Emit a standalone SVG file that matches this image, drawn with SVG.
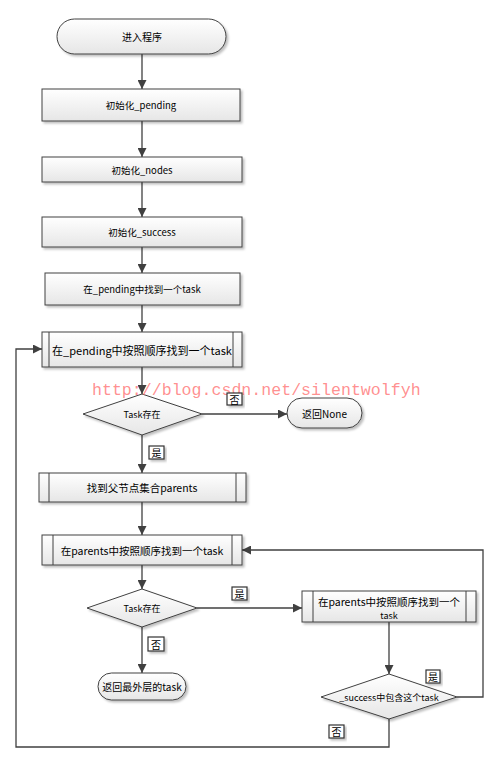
<svg xmlns="http://www.w3.org/2000/svg" width="495" height="758" viewBox="0 0 495 758">
<defs>
<linearGradient id="g" x1="0" y1="0" x2="0" y2="1">
<stop offset="0" stop-color="#ffffff"/>
<stop offset="1" stop-color="#e6e6e6"/>
</linearGradient>
<filter id="sh" x="-10%" y="-10%" width="130%" height="150%">
<feDropShadow dx="2" dy="2" stdDeviation="1" flood-color="#000" flood-opacity="0.25"/>
</filter>
<marker id="ah" viewBox="0 0 10 10" refX="10" refY="5" markerWidth="9" markerHeight="9" markerUnits="userSpaceOnUse" orient="auto">
<path d="M0,0 L10,5 L0,10 Z" fill="#404040"/>
</marker>
</defs>
<style>
.n{fill:url(#g);stroke:#404040;stroke-width:1;filter:url(#sh)}
.in{stroke:#404040;stroke-width:1;fill:none}
.t{font-family:"Noto Sans CJK SC","Noto Sans",sans-serif;fill:#000;text-anchor:middle;dominant-baseline:central}
.c{fill:none;stroke:#404040;stroke-width:1.3;marker-end:url(#ah)}
.lb{fill:#fff;stroke:#333;stroke-width:1.2;filter:url(#sh)}
.lt{font-family:"Noto Sans CJK SC",sans-serif;font-size:10px;fill:#000;text-anchor:middle;dominant-baseline:central}
</style>
<rect width="495" height="758" fill="#fff"/>
<g id="connectors">
<path class="c" d="M142,54 V89"/>
<path class="c" d="M142,121 V157"/>
<path class="c" d="M142,182 V217"/>
<path class="c" d="M142,247 V273"/>
<path class="c" d="M142,305 V332"/>
<path class="c" d="M142,367 V394"/>
<path class="c" d="M202,414 H287"/>
<path class="c" d="M142,435 V473"/>
<path class="c" d="M142,502 V535"/>
<path class="c" d="M142,565 V589"/>
<path class="c" d="M197,608 H302"/>
<path class="c" d="M142,627 V673"/>
<path class="c" d="M389,622 V674"/>
<path class="c" d="M457,697 H483 V550 H242"/>
<path class="c" d="M389,719 V747 H16 V349 H42"/>
</g>
<g id="start">
<rect class="n" x="57" y="19" width="169" height="35" rx="17.5"/>
<text class="t" x="142" y="36.5" font-size="10">进入程序</text>
</g>
<g id="init_pending">
<rect class="n" x="42" y="89" width="198" height="32"/>
<text class="t" x="141" y="105" font-size="9.5">初始化_pending</text>
</g>
<g id="init_nodes">
<rect class="n" x="42" y="157" width="200" height="25"/>
<text class="t" x="142" y="169.5" font-size="9.5">初始化_nodes</text>
</g>
<g id="init_success">
<rect class="n" x="42" y="217" width="200" height="30"/>
<text class="t" x="142" y="232" font-size="9.5">初始化_success</text>
</g>
<g id="find_pending">
<rect class="n" x="45" y="273" width="195" height="32"/>
<text class="t" x="142" y="289" font-size="9.5">在_pending中找到一个task</text>
</g>
<g id="find_pending_order">
<rect class="n" x="42" y="332" width="200" height="35"/>
<path class="in" d="M49,332 V367 M233,332 V367"/>
<text class="t" x="142" y="349.5" font-size="11">在_pending中按照顺序找到一个task</text>
</g>
<g id="task_exists1">
<polygon class="n" points="142,394 202,414 142,435 83,414"/>
<text class="t" x="142" y="414" font-size="9">Task存在</text>
</g>
<g id="return_none">
<rect class="n" x="287" y="398" width="75" height="30" rx="15"/>
<text class="t" x="324.5" y="413" font-size="10">返回None</text>
</g>
<g id="find_parents">
<rect class="n" x="39" y="473" width="207" height="29"/>
<path class="in" d="M49,473 V502 M236,473 V502"/>
<text class="t" x="142" y="487.5" font-size="10.5">找到父节点集合parents</text>
</g>
<g id="find_in_parents">
<rect class="n" x="42" y="535" width="200" height="30"/>
<path class="in" d="M53,535 V565 M232,535 V565"/>
<text class="t" x="142" y="550" font-size="10.5">在parents中按照顺序找到一个task</text>
</g>
<g id="task_exists2">
<polygon class="n" points="142,589 197,608 142,627 87,608"/>
<text class="t" x="142" y="608" font-size="9">Task存在</text>
</g>
<g id="find_in_parents2">
<rect class="n" x="302" y="591" width="174" height="31"/>
<path class="in" d="M313,591 V622 M466,591 V622"/>
<text class="t" x="389" y="601" font-size="10.5">在parents中按照顺序找到一个</text>
<text class="t" x="389" y="615" font-size="9">task</text>
</g>
<g id="return_outer">
<rect class="n" x="98" y="673" width="88" height="27" rx="13.5"/>
<text class="t" x="142" y="686.5" font-size="10">返回最外层的task</text>
</g>
<g id="success_contains">
<polygon class="n" points="389,674 457,697 389,719 321,697"/>
<text class="t" x="389" y="697" font-size="9">_success中包含这个task</text>
</g>
<text x="92" y="395" font-family="Liberation Mono, monospace" font-size="16.6" fill="#ff6060" fill-opacity="0.7">http://blog.csdn.net/silentwolfyh</text>
<g id="labels">
<rect class="lb" x="227" y="393" width="15" height="12"/><text class="lt" x="234.5" y="399">否</text>
<rect class="lb" x="149" y="446" width="15" height="13"/><text class="lt" x="156.5" y="452.5">是</text>
<rect class="lb" x="232" y="587" width="15" height="13"/><text class="lt" x="239.5" y="593.5">是</text>
<rect class="lb" x="148" y="637" width="16" height="14"/><text class="lt" x="156" y="644">否</text>
<rect class="lb" x="426" y="670" width="14" height="13"/><text class="lt" x="433" y="676.5">是</text>
<rect class="lb" x="329" y="725" width="15" height="13"/><text class="lt" x="336.5" y="731.5">否</text>
</g>
</svg>
